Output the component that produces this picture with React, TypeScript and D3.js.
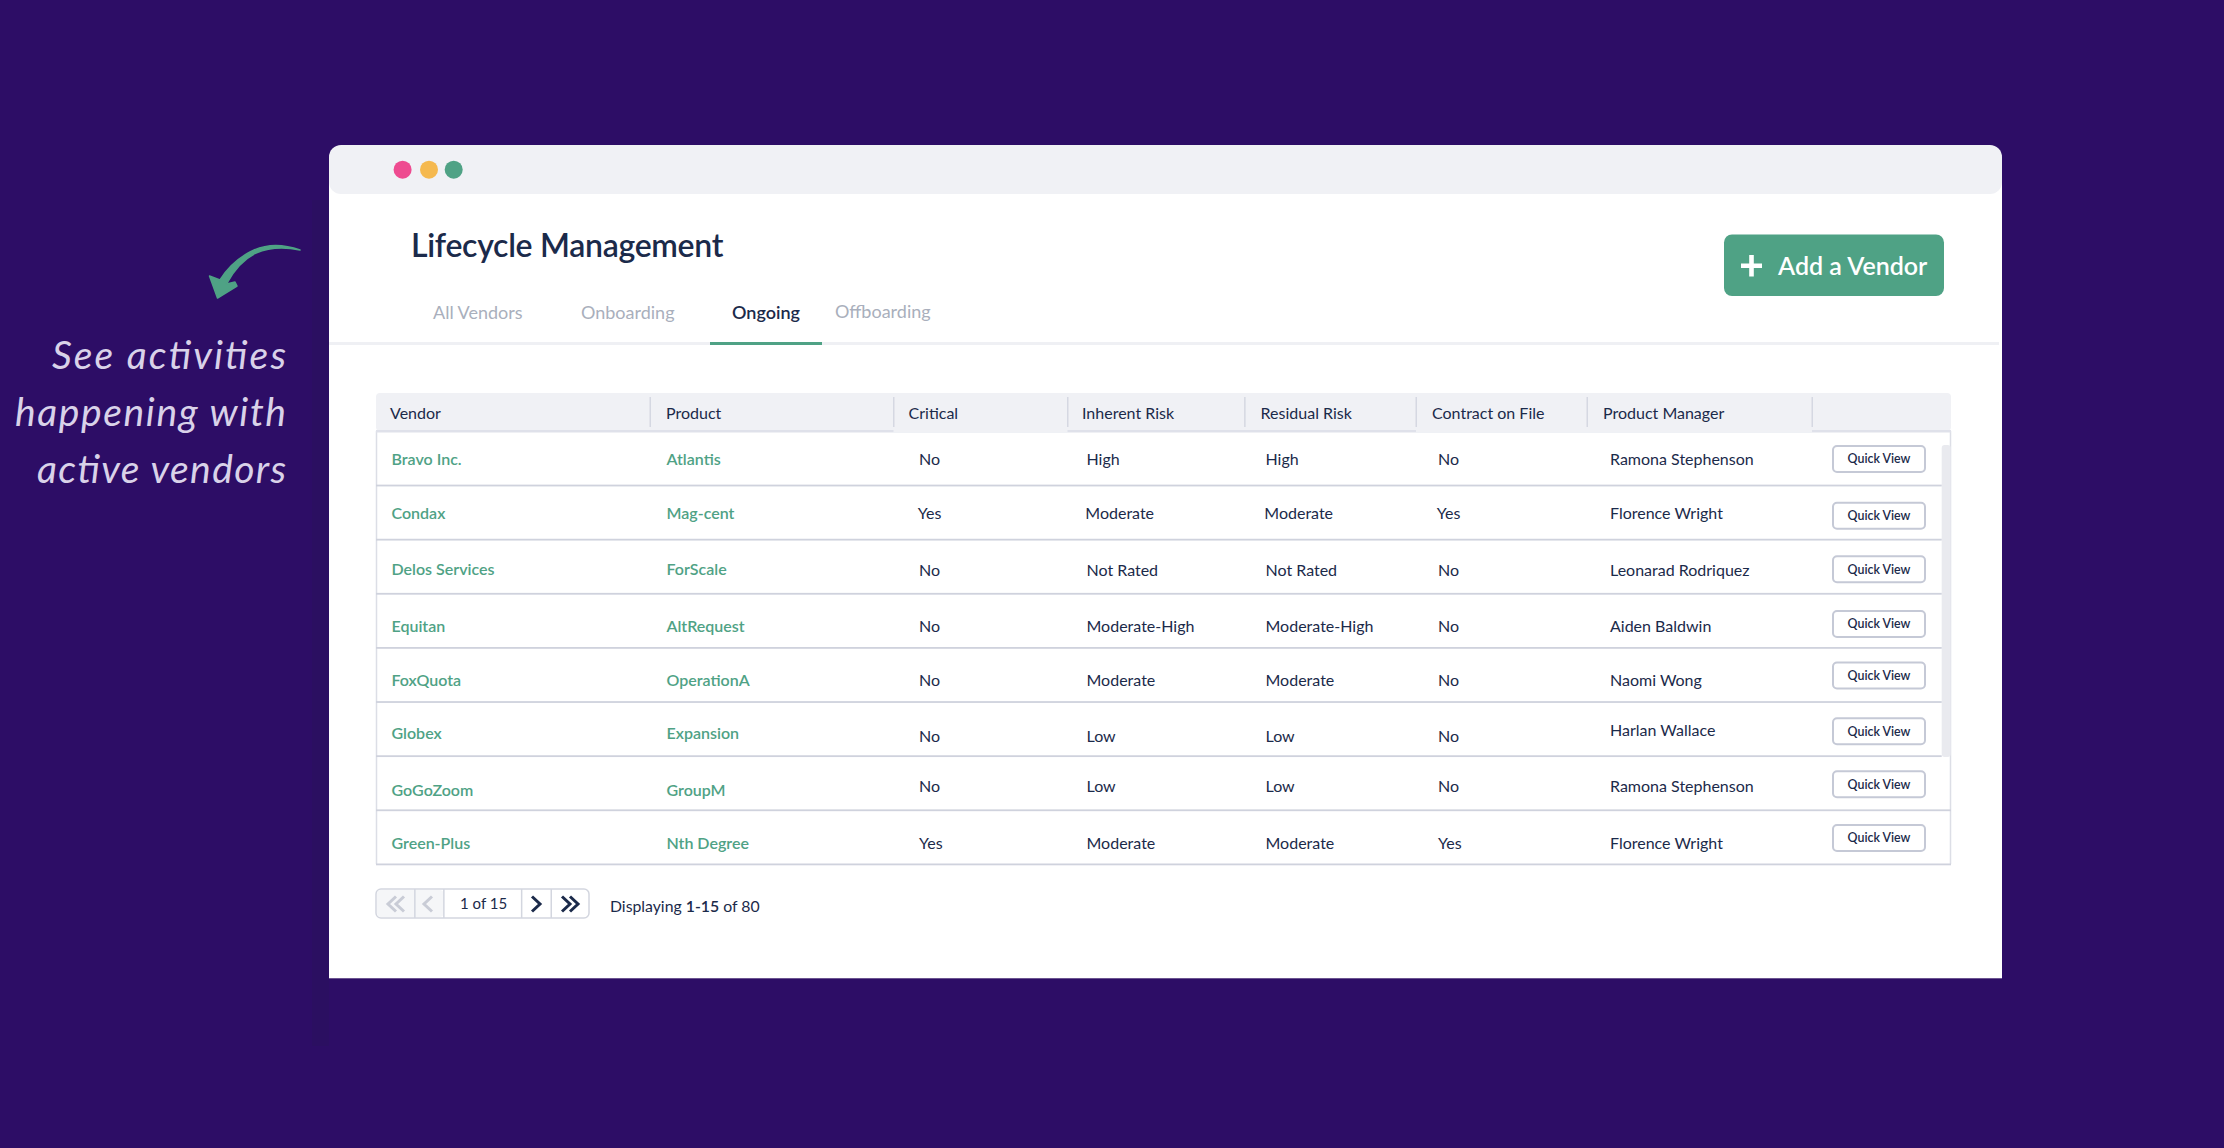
import { useRef, useEffect } from "react";
import * as d3 from "d3";

const columns = ["Vendor", "Product", "Critical", "Inherent Risk", "Residual Risk", "Contract on File", "Product Manager"];
const tabs = ["All Vendors", "Onboarding", "Ongoing", "Offboarding"];
const vendors = ["Bravo Inc.", "Condax", "Delos Services", "Equitan", "FoxQuota", "Globex", "GoGoZoom", "Green-Plus"];
const products = ["Atlantis", "Mag-cent", "ForScale", "AltRequest", "OperationA", "Expansion", "GroupM", "Nth Degree"];
const critical = ["No", "Yes", "No", "No", "No", "No", "No", "Yes"];
const inherentRisk = ["High", "Moderate", "Not Rated", "Moderate-High", "Moderate", "Low", "Low", "Moderate"];
const residualRisk = ["High", "Moderate", "Not Rated", "Moderate-High", "Moderate", "Low", "Low", "Moderate"];
const contractOnFile = ["No", "Yes", "No", "No", "No", "No", "No", "Yes"];
const managers = ["Ramona Stephenson", "Florence Wright", "Leonarad Rodriquez", "Aiden Baldwin", "Naomi Wong", "Harlan Wallace", "Ramona Stephenson", "Florence Wright"];
const noteLines = ["See activities", "happening with", "active vendors"];

// the mock-up's rows aren't perfectly aligned, these are the per row drifts
const nameDrift = [7, 6.5, 8.7, 11.2, 11, 10.3, 12.8, 12];
const statusDrift = [7, 6.5, 9.7, 11.2, 11, 13, 8.8, 11.8];
const managerDrift = [7, 6.5, 9.7, 11.2, 11, 7, 8.8, 11.8];
const buttonDrift = [1, 3.5, 3, 3.5, 1, 2.5, 1.5, 1];

const NAVY = "#1b2a4a";
const GREEN = "#4fa285";
const FONT = "Lato, sans-serif";

export default function App() {
  const svgRef = useRef<SVGSVGElement>(null);

  useEffect(() => {
    if (!svgRef.current) return;
    const svg = d3.select(svgRef.current);
    svg.selectAll("*").remove();

    const text = (x: number, y: number, s: string, size: number, fill: string, weight = 400) =>
      svg.append("text").attr("x", x).attr("y", y).attr("font-family", FONT)
        .attr("font-size", size).attr("font-weight", weight).attr("fill", fill).text(s);
    const rect = (x: number, y: number, w: number, h: number, fill: string, rx = 0) =>
      svg.append("rect").attr("x", x).attr("y", y).attr("width", w).attr("height", h).attr("rx", rx).attr("fill", fill);

    rect(0, 0, 2224, 1148, "#2d0d66");
    rect(312, 200, 17, 846, "#2a1060", 0).attr("opacity", 0.8);

    // window
    rect(329, 160, 1673, 818, "#ffffff");
    rect(329, 978, 1673, 1, "#6b5490");
    rect(329, 145, 1673, 49, "#f0f1f5", 12);
    svg.selectAll(".dot").data(["#ee4b90", "#f5b94f", GREEN]).enter().append("circle")
      .attr("cx", (_, i) => [402.6, 429, 453.7][i]).attr("cy", 169.7).attr("r", 9).attr("fill", d => d);

    text(411, 257, "Lifecycle Management", 32, NAVY, 600).attr("letter-spacing", -0.3);

    // tabs
    const tabX = d3.scaleOrdinal<string, number>().domain(tabs).range([433, 581, 732, 835]);
    tabs.forEach(t => {
      const on = t === "Ongoing";
      text(tabX(t), t === "Offboarding" ? 317.5 : 318.5, t, 18, on ? NAVY : "#a9afbc", on ? 600 : 400);
    });
    rect(329, 342, 1670, 3, "#eff0f4");
    rect(710, 342, 112, 3, GREEN);

    // add button
    rect(1724, 234.5, 220, 61.5, GREEN, 8);
    svg.append("path").attr("d", "M1741 265.7H1762M1751.5 255V276.5").attr("stroke", "#fff").attr("stroke-width", 4.6).attr("fill", "none");
    text(1778, 275, "Add a Vendor", 25, "#fff", 600);

    // table
    const TX0 = 376, TX1 = 1951, HEAD0 = 393, HEAD1 = 431, BODY1 = 864;
    rect(TX0, HEAD0, TX1 - TX0, HEAD1 - HEAD0, "#f0f1f5", 4);
    svg.append("path").attr("d", `M${TX0 + 0.5} ${HEAD1}V${BODY1}M${TX1 - 0.5} ${HEAD1}V${BODY1}`).attr("stroke", "#dcdee6").attr("stroke-width", 1.5).attr("fill", "none");

    const headX = d3.scaleOrdinal<string, number>().domain(columns).range([390, 666, 908.6, 1082, 1260.6, 1432, 1603]);
    const colX = d3.scaleOrdinal<string, number>().domain(columns).range([391.5, 666.5, 919, 1086.5, 1265.5, 1438, 1610]);
    const seps = [650, 893.5, 1067.5, 1244.6, 1416, 1587, 1812];
    seps.forEach(x => rect(x - 0.5, 397, 1.5, 30, "#d5d8e2"));
    columns.forEach(c => text(headX(c), 418.5, c, 16, NAVY));

    rect(TX0, 430, TX1 - TX0, 2.5, "#dfe1ea");
    rect(893.5, 430, 174, 2.5, "#f0f1f5");
    rect(1416, 430, 396, 2.5, "#f0f1f5");

    const rowY = d3.scaleBand<number>().domain(d3.range(vendors.length)).range([HEAD1, BODY1]);
    rect(1941.7, 445, 9, 312, "#e9eaef", 3);
    vendors.forEach((_, i) => {
      const top = rowY(i)!;
      const mid = top + rowY.bandwidth() / 2;
      rect(TX0, top + rowY.bandwidth() - 0.5, i < 6 ? 1565.7 : TX1 - TX0, 1.8, "#cfd2dd");

      text(colX("Vendor"), mid + nameDrift[i], vendors[i], 16, GREEN, 600);
      text(colX("Product"), mid + nameDrift[i], products[i], 16, GREEN, 600);

      const nudge = i === 1 ? -1.2 : 0;
      text(colX("Critical") + nudge, mid + statusDrift[i], critical[i], 16, NAVY);
      text(colX("Inherent Risk") + nudge, mid + statusDrift[i], inherentRisk[i], 16, NAVY);
      text(colX("Residual Risk") + nudge, mid + statusDrift[i], residualRisk[i], 16, NAVY);
      text(colX("Contract on File") + nudge, mid + statusDrift[i], contractOnFile[i], 16, NAVY);
      text(colX("Product Manager"), mid + managerDrift[i], managers[i], 16, NAVY);

      const by = mid + buttonDrift[i];
      rect(1833, by - 13, 92, 26, "#fff", 4).attr("stroke", "#c5c9d6").attr("stroke-width", 2);
      text(1879, by + 4.4, "Quick View", 12.4, NAVY, 600).attr("text-anchor", "middle");
    });

    // pager
    rect(376, 889, 213, 29, "#fff", 5).attr("stroke", "#d3d6df").attr("stroke-width", 1.5);
    rect(377, 890, 66.5, 27, "#f5f6f8", 4);
    [414.6, 443.6, 521.4, 551].forEach(x => rect(x - 0.5, 889, 1.5, 29, "#d3d6df"));
    text(460, 909, "1 of 15", 15, NAVY);
    const chevron = d3.line();
    const chev = (x: number, dir: number, col: string) =>
      svg.append("path").attr("d", chevron([[x - dir * 4, 896.5], [x + dir * 4, 904], [x - dir * 4, 911.5]]))
        .attr("fill", "none").attr("stroke", col).attr("stroke-width", 3);
    chev(392, -1, "#c9ccd6"); chev(400, -1, "#c9ccd6");
    chev(428, -1, "#c9ccd6");
    chev(536, 1, NAVY);
    chev(566, 1, NAVY); chev(574, 1, NAVY);
    const disp = text(610, 911.5, "Displaying ", 15.8, NAVY);
    disp.append("tspan").attr("font-weight", 600).text("1-15");
    disp.append("tspan").text(" of 80");

    // side note and its arrow
    const arrow = d3.path();
    arrow.moveTo(300, 250);
    arrow.quadraticCurveTo(272, 240, 250, 252);
    arrow.quadraticCurveTo(231, 262, 220, 280);
    arrow.lineTo(209.5, 276);
    arrow.lineTo(217.5, 298);
    arrow.lineTo(237, 286);
    arrow.lineTo(235, 282);
    arrow.lineTo(226.5, 284);
    arrow.quadraticCurveTo(238, 262, 256, 253);
    arrow.quadraticCurveTo(275, 245, 300, 250);
    arrow.closePath();
    svg.append("path").attr("d", arrow.toString()).attr("fill", GREEN).attr("stroke", GREEN).attr("stroke-width", 1.5).attr("stroke-linejoin", "round");

    const noteWidth = [234, 271, 249];
    noteLines.forEach((l, i) => {
      text(286 - noteWidth[i], 368.5 + i * 57, l, 39, "#d9d2e9")
        .attr("font-style", "italic").attr("textLength", noteWidth[i]).attr("lengthAdjust", "spacing");
    });
  }, []);

  return <svg ref={svgRef} width={2224} height={1148} style={{ position: "absolute", left: 0, top: 0, display: "block" }} />;
}
